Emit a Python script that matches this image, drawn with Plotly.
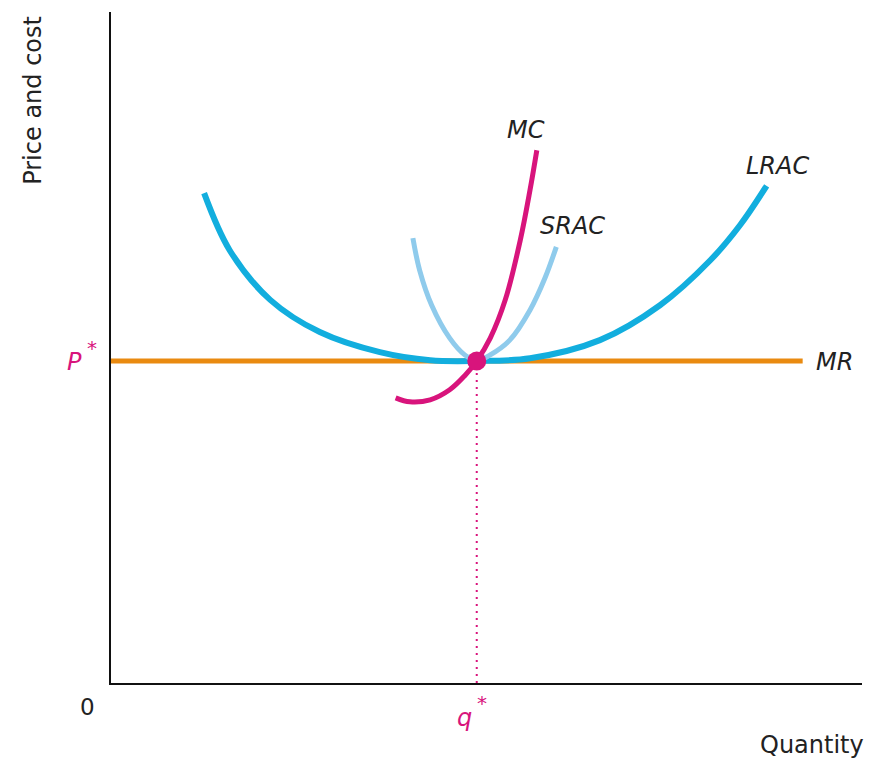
import plotly.graph_objects as go

# Long-run average cost curve
lrac_x = [1.24, 1.58, 2.12, 2.78, 3.58, 4.25, 4.87, 5.58, 6.51, 7.31, 7.98, 8.38, 8.73]
lrac_y = [7.30, 6.45, 5.71, 5.23, 4.93, 4.81, 4.80, 4.84, 5.11, 5.63, 6.30, 6.83, 7.41]

# Short-run average cost curve
srac_x = [4.02, 4.11, 4.27, 4.51, 4.71, 4.87, 5.05, 5.31, 5.58, 5.78, 5.93]
srac_y = [6.63, 6.15, 5.63, 5.14, 4.89, 4.80, 4.89, 5.11, 5.56, 6.04, 6.50]

# Marginal cost curve
mc_x = [3.79, 3.98, 4.25, 4.51, 4.71, 4.87, 5.05, 5.25, 5.45, 5.58, 5.67]
mc_y = [4.25, 4.19, 4.22, 4.37, 4.58, 4.80, 5.14, 5.71, 6.60, 7.35, 7.94]

# Marginal revenue (= price) line
mr_x = [0.0, 9.21]
price = 4.80
q_star = 4.87

BLUE = "#12aede"
LIGHT_BLUE = "#8fcbec"
MAGENTA = "#d8147c"
ORANGE = "#e98a10"
FONT = "DejaVu Sans"

fig = go.Figure()

fig.add_trace(go.Scatter(x=mr_x, y=[price, price], mode="lines",
                         line=dict(color=ORANGE, width=5), hoverinfo="skip"))
fig.add_trace(go.Scatter(x=[q_star, q_star], y=[0, price], mode="lines",
                         line=dict(color=MAGENTA, width=2, dash="2px,5px"), hoverinfo="skip"))
fig.add_trace(go.Scatter(x=lrac_x, y=lrac_y, mode="lines",
                         line=dict(color=BLUE, width=6, shape="spline"), hoverinfo="skip"))
fig.add_trace(go.Scatter(x=srac_x, y=srac_y, mode="lines",
                         line=dict(color=LIGHT_BLUE, width=5, shape="spline"), hoverinfo="skip"))
fig.add_trace(go.Scatter(x=mc_x, y=mc_y, mode="lines",
                         line=dict(color=MAGENTA, width=5, shape="spline"), hoverinfo="skip"))
fig.add_trace(go.Scatter(x=[q_star], y=[price], mode="markers",
                         marker=dict(color=MAGENTA, size=19), hoverinfo="skip"))

X_MAX = 10.0
Y_MAX = 10.0
ann = []
def label(text, x, y, color="#222222", size=24, angle=0, xanchor="center"):
    # positions given in data units, placed on paper so they may sit outside the axes
    ann.append(dict(text=text, x=x / X_MAX, y=y / Y_MAX, xref="paper", yref="paper",
                    xanchor=xanchor, yanchor="middle",
                    showarrow=False, textangle=angle,
                    font=dict(family=FONT, size=size, color=color)))

label("<i>MC</i>", 5.52, 8.24)
label("<i>SRAC</i>", 6.14, 6.81)
label("<i>LRAC</i>", 8.88, 7.70)
label("<i>MR</i>", 9.63, 4.78)
label("<i>P</i>", -0.36, 4.78, color=MAGENTA, xanchor="right")
label("*", -0.35, 5.00, color=MAGENTA, size=20, xanchor="left")
label("<i>q</i>", 4.84, -0.52, color=MAGENTA, xanchor="right")
label("*", 4.85, -0.30, color=MAGENTA, size=20, xanchor="left")
label("0", -0.31, -0.36, size=23)
label("Quantity", 9.34, -0.92, size=24)
label("Price and cost", -1.04, 8.69, size=24, angle=-90)

fig.update_layout(
    width=875, height=761,
    margin=dict(l=111, r=13, t=12, b=78),
    paper_bgcolor="white", plot_bgcolor="white",
    showlegend=False,
    annotations=ann,
    xaxis=dict(range=[0, X_MAX], showgrid=False, zeroline=False, showticklabels=False,
               ticks="", showline=True, linecolor="#111111", linewidth=2),
    yaxis=dict(range=[0, Y_MAX], showgrid=False, zeroline=False, showticklabels=False,
               ticks="", showline=True, linecolor="#111111", linewidth=2),
)

fig.write_html("out.html")
